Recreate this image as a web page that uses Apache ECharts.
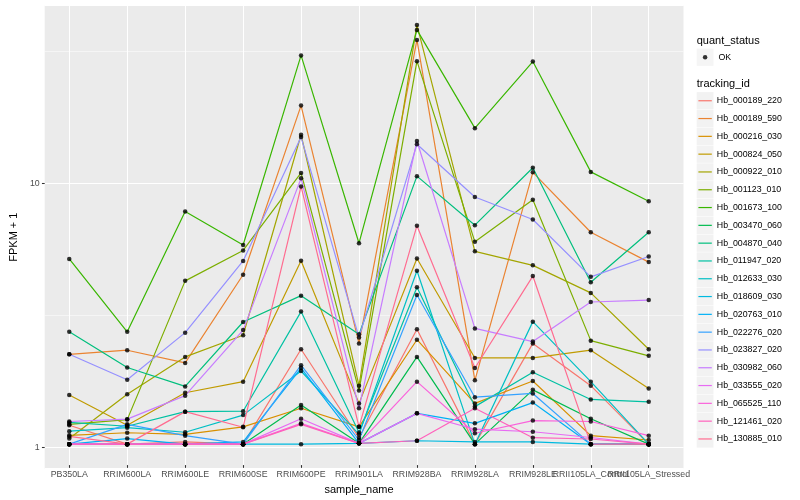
<!DOCTYPE html>
<html>
<head>
<meta charset="utf-8">
<script src="https://cdn.jsdelivr.net/npm/echarts@6/dist/echarts.min.js"></script>
<style>
  html, body { margin: 0; padding: 0; background: #ffffff; }
  #chart { width: 800px; height: 500px; }
</style>
</head>
<body>
<div id="chart"></div>
<script>
// ---- data ----
const categories = ['PB350LA', 'RRIM600LA', 'RRIM600LE', 'RRIM600SE', 'RRIM600PE', 'RRIM901LA',
  'RRIM928BA', 'RRIM928LA', 'RRIM928LE', 'RRII105LA_Control', 'RRII105LA_Stressed'];

const hb_000189_220 = [1.18, 1.0, 1.02, 1.0, 2.3, 1.058, 2.74, 1.0, 2.42, 1.67, 1.0];
const hb_000189_590 = [2.2, 2.28, 2.04, 4.42, 19.5, 2.42, 34.7, 1.75, 10.86, 6.42, 4.94];
const hb_000216_030 = [1.08, 1.105, 1.09, 1.164, 1.37, 1.164, 2.5, 1.43, 1.74, 1.077, 1.037];
const hb_000824_050 = [1.54, 1.18, 1.57, 1.73, 5.0, 1.43, 5.1, 2.13, 2.13, 2.28, 1.63];
const hb_000922_010 = [1.05, 1.55, 2.15, 2.6, 15.1, 1.67, 39.6, 5.43, 4.8, 3.77, 2.3];
const hb_001123_010 = [1.19, 1.24, 4.19, 5.47, 10.8, 1.6, 28.8, 5.9, 8.54, 2.48, 2.17];
const hb_001673_100 = [5.08, 2.68, 7.7, 5.74, 30.3, 5.83, 37.9, 16.0, 28.7, 10.9, 8.42];
const hb_003470_060 = [1.0, 1.0, 1.0, 1.0, 1.41, 1.007, 2.15, 1.0, 1.61, 1.25, 1.0];
const hb_004870_040 = [2.68, 1.96, 1.66, 2.92, 3.68, 2.62, 10.5, 6.83, 11.3, 4.14, 6.42];
const hb_011947_020 = [1.21, 1.17, 1.33, 1.335, 3.2, 1.108, 3.96, 1.39, 1.88, 1.48, 1.45];
const hb_012633_030 = [1.12, 1.155, 1.11, 1.29, 1.9, 1.09, 4.58, 1.0, 2.93, 1.73, 1.0];
const hb_018609_030 = [1.0, 1.0, 1.0, 1.0, 1.0, 1.007, 1.03, 1.02, 1.02, 1.0, 1.0];
const hb_020763_010 = [1.0, 1.05, 1.0, 1.02, 1.95, 1.007, 1.31, 1.2, 1.44, 1.0, 1.0];
const hb_022276_020 = [1.0, 1.19, 1.077, 1.0, 2.0, 1.037, 3.7, 1.51, 1.56, 1.0, 1.0];
const hb_023827_020 = [2.2, 1.76, 2.66, 4.99, 14.8, 2.55, 13.9, 8.75, 7.18, 4.34, 5.19];
const hb_030982_060 = [1.22, 1.245, 1.53, 2.72, 10.3, 1.37, 14.3, 2.76, 2.46, 3.48, 3.54];
const hb_033555_020 = [1.0, 1.0, 1.0, 1.0, 1.25, 1.007, 1.31, 1.14, 1.115, 1.06, 1.0];
const hb_065525_110 = [1.0, 1.0, 1.0, 1.0, 1.2, 1.007, 1.73, 1.1, 1.23, 1.22, 1.077];
const hb_121461_020 = [1.0, 1.0, 1.0, 1.0, 1.19, 1.007, 1.03, 1.37, 1.058, 1.046, 1.0];
const hb_130885_010 = [1.07, 1.0, 1.33, 1.16, 9.6, 1.164, 6.8, 1.95, 4.37, 1.0, 1.0];

const seriesNames = ['Hb_000189_220', 'Hb_000189_590', 'Hb_000216_030', 'Hb_000824_050', 'Hb_000922_010',
  'Hb_001123_010', 'Hb_001673_100', 'Hb_003470_060', 'Hb_004870_040', 'Hb_011947_020', 'Hb_012633_030',
  'Hb_018609_030', 'Hb_020763_010', 'Hb_022276_020', 'Hb_023827_020', 'Hb_030982_060', 'Hb_033555_020',
  'Hb_065525_110', 'Hb_121461_020', 'Hb_130885_010'];
const seriesValues = [hb_000189_220, hb_000189_590, hb_000216_030, hb_000824_050, hb_000922_010,
  hb_001123_010, hb_001673_100, hb_003470_060, hb_004870_040, hb_011947_020, hb_012633_030,
  hb_018609_030, hb_020763_010, hb_022276_020, hb_023827_020, hb_030982_060, hb_033555_020,
  hb_065525_110, hb_121461_020, hb_130885_010];
const statusName = 'OK';
const yTickValues = [1, 10];

// ---- style ----
const palette = ['#F8766D', '#EA8331', '#D89000', '#C09B00', '#A3A500', '#7CAE00', '#39B600', '#00BB4E',
  '#00BF7D', '#00C1A3', '#00BFC4', '#00BAE0', '#00B0F6', '#35A2FF', '#9590FF', '#C77CFF', '#E76BF3',
  '#FA62DB', '#FF62BC', '#FF6C90'];
const FONT = '"Liberation Sans", Arial, Helvetica, sans-serif';
const Y_MIN = 0.832, Y_MAX = 46.9;
const panelTop = 5.6, panelBottom = 31.3;
const LINE_W = 1.2;

const chart = echarts.init(document.getElementById('chart'), null, { renderer: 'canvas', width: 800, height: 500 });

const lineSeries = seriesNames.map((name, k) => ({
  name: name,
  type: 'line',
  xAxisIndex: 1,
  yAxisIndex: 2,
  data: seriesValues[k],
  symbol: 'none',
  silent: true,
  color: palette[k],
  itemStyle: { color: palette[k] },
  lineStyle: { width: LINE_W, color: palette[k] },
  z: 3
}));

const pointData = [];
seriesValues.forEach(arr => arr.forEach((v, i) => pointData.push([i, v])));

const option = {
  animation: false,
  backgroundColor: '#ffffff',
  textStyle: { fontFamily: FONT },
  title: [
    { text: 'quant_status', left: 696.7, top: 35.2, padding: 0,
      textStyle: { fontSize: 11, fontWeight: 'normal', color: '#000000', fontFamily: FONT } },
    { text: 'tracking_id', left: 696.7, top: 78.5, padding: 0,
      textStyle: { fontSize: 11, fontWeight: 'normal', color: '#000000', fontFamily: FONT } }
  ],
  legend: [
    { // grey key boxes for tracking_id
      data: seriesNames.map(n => ({ name: n, icon: 'rect' })),
      orient: 'vertical', left: 696.7, top: 92.1, padding: 0,
      itemWidth: 16.8, itemHeight: 17.3, itemGap: 0.5, selectedMode: false, z: 2,
      itemStyle: { color: '#F2F2F2', borderWidth: 0, borderColor: 'transparent' },
      textStyle: { fontSize: 8.8, lineHeight: 17.3, color: 'rgba(0,0,0,0)', fontFamily: FONT }
    },
    { // coloured lines + labels
      data: seriesNames.map(n => ({ name: n, icon: 'rect' })),
      orient: 'vertical', left: 698.4, top: 92.1, padding: 0,
      itemWidth: 13.4, itemHeight: LINE_W, itemGap: 0.5, selectedMode: false, z: 3,
      itemStyle: { borderWidth: 0 },
      textStyle: { fontSize: 8.8, lineHeight: 17.3, color: '#000000', fontFamily: FONT }
    },
    { // grey key box for quant_status
      data: [{ name: statusName, icon: 'rect' }],
      orient: 'vertical', left: 696.7, top: 48.6, padding: 0,
      itemWidth: 16.8, itemHeight: 17.3, selectedMode: false, z: 2,
      itemStyle: { color: '#F2F2F2', borderWidth: 0, borderColor: 'transparent' },
      textStyle: { fontSize: 8.8, lineHeight: 17.3, color: '#000000', fontFamily: FONT }
    },
    { // dot in the quant_status key
      data: [{ name: statusName, icon: 'circle' }],
      orient: 'vertical', left: 702.85, top: 48.6, padding: 0,
      itemWidth: 4.5, itemHeight: 4.5, selectedMode: false, z: 3,
      itemStyle: { color: '#000000', borderWidth: 0 },
      textStyle: { fontSize: 8.8, lineHeight: 17.3, color: 'rgba(0,0,0,0)', fontFamily: FONT }
    }
  ],
  grid: [
    { left: 34.5, right: 116.5, top: panelTop, bottom: panelBottom, show: true,
      backgroundColor: '#EBEBEB', borderWidth: 0, containLabel: false },
    { left: 40.3, right: 122.3, top: panelTop, bottom: panelBottom, show: false, containLabel: false }
  ],
  xAxis: [
    { gridIndex: 0, type: 'value', min: 0, max: 1, show: false },
    {
      gridIndex: 1, type: 'category', data: categories, boundaryGap: true,
      axisLine: { show: false },
      axisTick: { show: true, alignWithLabel: true, interval: 0, length: 2.74, lineStyle: { color: '#333333', width: 1.07 } },
      splitLine: { show: true, alignWithLabel: true, interval: 0, lineStyle: { color: '#FFFFFF', width: 1.07 } },
      axisLabel: { interval: 0, color: '#4D4D4D', fontSize: 8.8, margin: 5, fontFamily: FONT, hideOverlap: false },
      name: 'sample_name', nameLocation: 'middle', nameGap: 17.5,
      nameTextStyle: { fontSize: 11, color: '#000000', fontFamily: FONT, verticalAlign: 'top' }
    }
  ],
  yAxis: [
    { // major grid (decades)
      gridIndex: 0, type: 'log', logBase: 10, min: Y_MIN, max: Y_MAX, position: 'left',
      axisLine: { show: false, onZero: false }, axisTick: { show: false }, axisLabel: { show: false },
      splitLine: { show: true, lineStyle: { color: '#FFFFFF', width: 1.07 } }
    },
    { // minor grid (half decades)
      gridIndex: 0, type: 'log', logBase: Math.sqrt(10), min: Y_MIN, max: Y_MAX, position: 'right',
      axisLine: { show: false, onZero: false }, axisTick: { show: false }, axisLabel: { show: false },
      splitLine: { show: true, lineStyle: { color: '#FFFFFF', width: 0.53 } }
    },
    { // data axis
      gridIndex: 1, type: 'log', logBase: 10, min: Y_MIN, max: Y_MAX, show: false,
      splitLine: { show: false } },
    { // tick marks and labels, placed at log10 of the tick values
      gridIndex: 0, type: 'value', min: Math.log10(Y_MIN), max: Math.log10(Y_MAX),
      position: 'left', offset: 0,
      axisLine: { show: false, onZero: false },
      axisTick: { show: true, length: 2.74, customValues: yTickValues.map(v => Math.log10(v)),
        lineStyle: { color: '#333333', width: 1.07 } },
      axisLabel: { color: '#4D4D4D', fontSize: 8.8, margin: 5, fontFamily: FONT,
        customValues: yTickValues.map(v => Math.log10(v)),
        formatter: v => String(Math.round(Math.pow(10, v))) },
      splitLine: { show: false },
      name: 'FPKM + 1', nameLocation: 'middle', nameGap: 18, nameRotate: 90,
      nameTextStyle: { fontSize: 11, color: '#000000', fontFamily: FONT }
    }
  ],
  series: lineSeries.concat([{
    name: statusName,
    type: 'scatter',
    xAxisIndex: 1,
    yAxisIndex: 2,
    data: pointData,
    symbol: 'circle',
    symbolSize: 4.5,
    silent: true,
    color: '#000000',
    itemStyle: { color: '#000000' },
    z: 5
  }])
};

chart.setOption(option);
</script>
</body>
</html>
